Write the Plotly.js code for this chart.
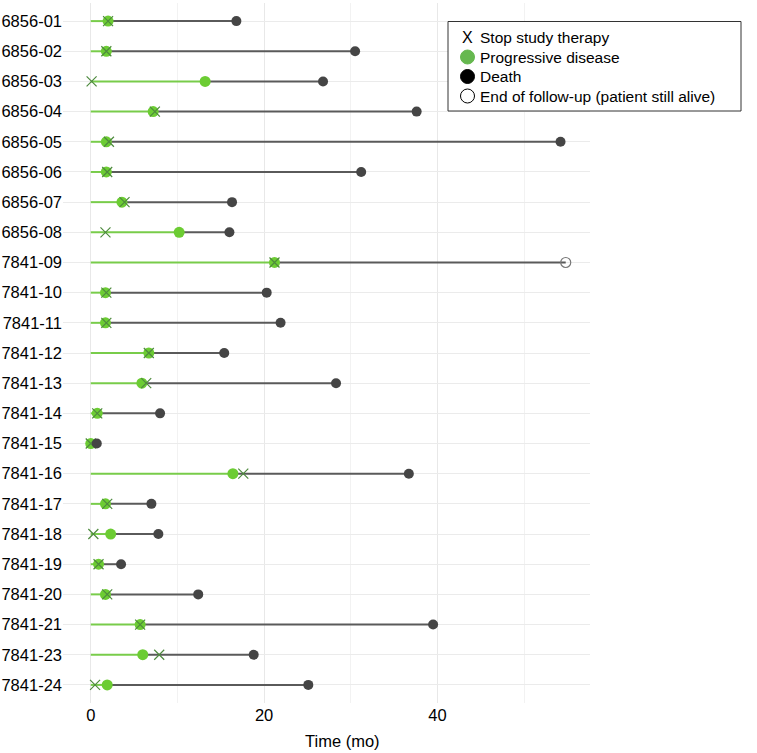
<!DOCTYPE html>
<html>
<head>
<meta charset="utf-8">
<script src="https://cdn.plot.ly/plotly-3.0.1.min.js"></script>
<style>
  html, body { margin: 0; padding: 0; background: #fff; }
  #chart { width: 757px; height: 753px; }
</style>
</head>
<body>
<div id="chart"></div>
<script>
// Patients, top to bottom
const patients = ['6856-01', '6856-02', '6856-03', '6856-04', '6856-05', '6856-06', '6856-07', '6856-08',
    '7841-09', '7841-10', '7841-11', '7841-12', '7841-13', '7841-14', '7841-15', '7841-16',
    '7841-17', '7841-18', '7841-19', '7841-20', '7841-21', '7841-23', '7841-24'];

// Time of progressive disease (mo)
const pdTime = [2.0, 1.8, 13.2, 7.2, 1.8, 1.8, 3.6, 10.2,
    21.2, 1.7, 1.7, 6.7, 5.9, 0.75, 0.0, 16.4,
    1.7, 2.3, 0.9, 1.7, 5.7, 6.0, 1.9];

// Time study therapy was stopped (mo)
const stopTime = [2.0, 1.8, 0.1, 7.4, 2.1, 1.9, 3.9, 1.7,
    21.2, 1.8, 1.8, 6.7, 6.4, 0.75, 0.0, 17.6,
    1.9, 0.3, 0.9, 1.9, 5.7, 7.9, 0.5];

// Time of death or end of follow-up (mo)
const endTime = [16.8, 30.5, 26.8, 37.6, 54.2, 31.2, 16.3, 16.0,
    54.8, 20.3, 21.9, 15.4, 28.3, 8.0, 0.7, 36.7,
    7.0, 7.8, 3.5, 12.4, 39.5, 18.8, 25.1];

// 'death' or 'alive' at end of follow-up
const endStatus = ['death', 'death', 'death', 'death', 'death', 'death', 'death', 'death',
    'alive', 'death', 'death', 'death', 'death', 'death', 'death', 'death',
    'death', 'death', 'death', 'death', 'death', 'death', 'death'];

// Legend entries
const legendLabels = ['Stop study therapy', 'Progressive disease', 'Death', 'End of follow-up (patient still alive)'];

// build segment traces with null separators
const greenX = [], greenY = [], greyX = [], greyY = [];
patients.forEach((p, i) => {
    greenX.push(0, pdTime[i], null);
    greenY.push(p, p, null);
    greyX.push(pdTime[i], endTime[i], null);
    greyY.push(p, p, null);
});

const deadIdx = patients.map((p, i) => i).filter(i => endStatus[i] === 'death');
const aliveIdx = patients.map((p, i) => i).filter(i => endStatus[i] === 'alive');

const traces = [
    {
        x: greyX, y: greyY, type: 'scatter', mode: 'lines',
        line: { color: '#5a5a5a', width: 2 }, hoverinfo: 'skip'
    },
    {
        x: greenX, y: greenY, type: 'scatter', mode: 'lines',
        line: { color: '#78cc4a', width: 2 }, hoverinfo: 'skip'
    },
    {
        x: pdTime, y: patients, type: 'scatter', mode: 'markers',
        marker: { color: '#6ccc33', size: 11 }
    },
    {
        x: stopTime, y: patients, type: 'scatter', mode: 'markers',
        marker: { symbol: 'x-thin-open', size: 10, color: '#4e8a3e', line: { width: 1.2 } }
    },
    {
        x: deadIdx.map(i => endTime[i]), y: deadIdx.map(i => patients[i]),
        type: 'scatter', mode: 'markers',
        marker: { color: '#454545', size: 10 }
    },
    {
        x: aliveIdx.map(i => endTime[i]), y: aliveIdx.map(i => patients[i]),
        type: 'scatter', mode: 'markers',
        marker: { symbol: 'circle-open', color: '#777', size: 10, line: { width: 1.2 } }
    }
];

// hand-drawn legend box (pixel placement converted to paper coords)
const plotL = 63, plotW = 527, plotT = 3, plotH = 700;
const px = v => (v - plotL) / plotW;
const py = v => 1 - (v - plotT) / plotH;
const rowY = [37.5, 57, 76.5, 96];

const shapes = [
    {
        type: 'rect', xref: 'paper', yref: 'paper',
        x0: px(448), x1: px(741), y0: py(111), y1: py(21.5),
        line: { color: '#333', width: 1 }, fillcolor: '#fff', layer: 'above'
    }
];
const circleStyles = [
    null,
    { fill: '#66b84f', line: '#66b84f' },
    { fill: '#000', line: '#000' },
    { fill: '#fff', line: '#000' }
];
circleStyles.forEach((s, k) => {
    if (!s) return;
    shapes.push({
        type: 'circle', xref: 'paper', yref: 'paper',
        xsizemode: 'pixel', ysizemode: 'pixel',
        xanchor: px(467.5), yanchor: py(rowY[k]),
        x0: -7, x1: 7, y0: -7, y1: 7,
        fillcolor: s.fill, line: { color: s.line, width: 1 }, layer: 'above'
    });
});

const annotations = legendLabels.map((t, k) => ({
    text: t, xref: 'paper', yref: 'paper',
    x: px(478), y: py(rowY[k]), xanchor: 'left', yanchor: 'middle',
    showarrow: false, font: { size: 15.5, color: '#000' }
}));
annotations.push({
    text: 'X', xref: 'paper', yref: 'paper',
    x: px(467.5), y: py(rowY[0]), xanchor: 'center', yanchor: 'middle',
    showarrow: false, font: { size: 16, color: '#000' }
});
annotations.push({
    text: 'Time (mo)', xref: 'paper', yref: 'paper',
    x: px(342), y: py(741), xanchor: 'center', yanchor: 'middle',
    showarrow: false, font: { size: 16.5, color: '#000' }
});

const layout = {
    width: 757,
    height: 753,
    margin: { l: 63, r: 167, t: 3, b: 50 },
    paper_bgcolor: '#ffffff',
    plot_bgcolor: '#ffffff',
    font: { family: '"Liberation Sans", Arial, sans-serif', size: 16, color: '#000' },
    showlegend: false,
    xaxis: {
        range: [-3.2, 57.6],
        tickvals: [0, 20, 40],
        showgrid: true, gridcolor: '#e8e8e8', gridwidth: 1,
        minor: { tickvals: [10, 30, 50], showgrid: true, gridcolor: '#f2f2f2', gridwidth: 1 },
        zeroline: false, showline: false, ticks: '',
        tickfont: { size: 16.5 }
    },
    yaxis: {
        type: 'category',
        categoryorder: 'array', categoryarray: patients,
        range: [patients.length - 0.4, -0.6],
        showgrid: true, gridcolor: '#ebebeb', gridwidth: 1,
        zeroline: false, showline: false, ticks: '',
        tickfont: { size: 16.5 }
    },
    shapes: shapes,
    annotations: annotations,
    hovermode: 'closest'
};

Plotly.newPlot('chart', traces, layout, { displayModeBar: false, responsive: false });
</script>
</body>
</html>
